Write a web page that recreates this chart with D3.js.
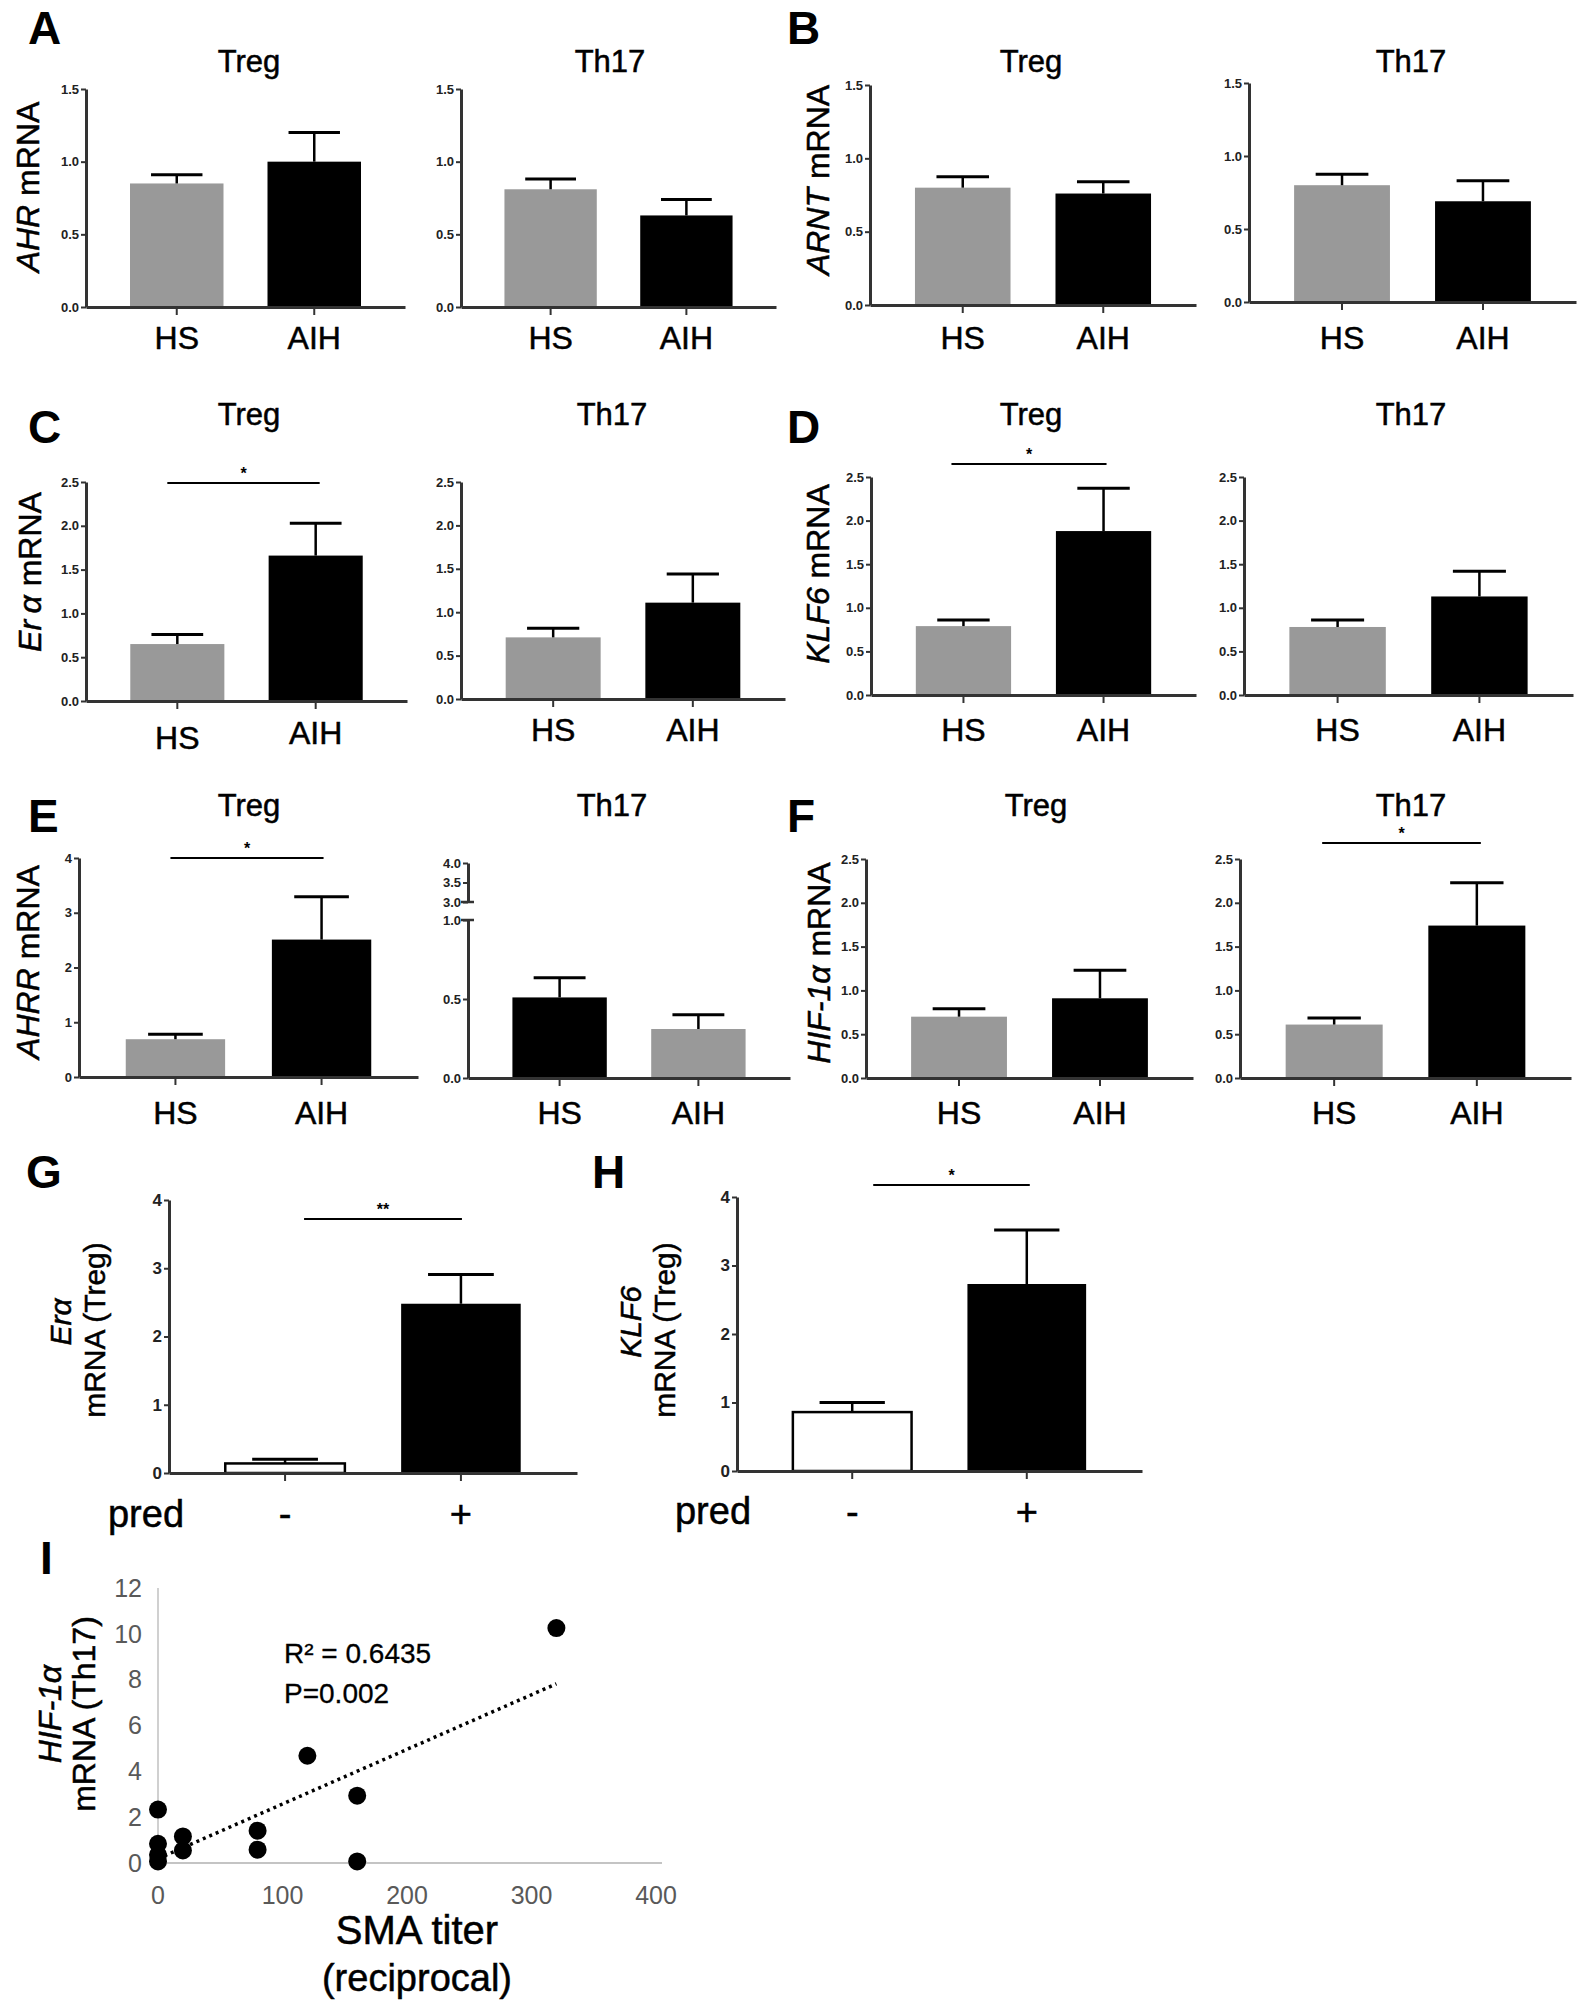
<!DOCTYPE html>
<html><head><meta charset="utf-8">
<script src="https://cdn.jsdelivr.net/npm/d3@7"></script>
<style>body{margin:0;background:#fff}svg{display:block}</style>
</head><body>
<svg id="fig" width="1585" height="2006"></svg>
<script>
// ---------------- DATA ----------------
const groups = ["HS", "AIH"];
const predGroups = ["-", "+"];
const cellTypes = ["Treg", "Th17"];
const ticks15 = [0, 0.5, 1.0, 1.5];
const ticks25 = [0, 0.5, 1.0, 1.5, 2.0, 2.5];
const ticks4 = [0, 1, 2, 3, 4];
const ticksBrokenLow = [0, 0.5, 1.0];
const ticksBrokenHigh = [3.0, 3.5, 4.0];

const ahrTreg = [0.85, 1.00],  ahrTregSem = [0.06, 0.20];
const ahrTh17 = [0.81, 0.63],  ahrTh17Sem = [0.07, 0.11];
const arntTreg = [0.80, 0.76], arntTregSem = [0.075, 0.08];
const arntTh17 = [0.80, 0.69], arntTh17Sem = [0.075, 0.14];
const eraTreg = [0.65, 1.66],  eraTregSem = [0.11, 0.37];
const eraTh17 = [0.71, 1.11],  eraTh17Sem = [0.105, 0.33];
const klf6Treg = [0.79, 1.88], klf6TregSem = [0.07, 0.49];
const klf6Th17 = [0.78, 1.13], klf6Th17Sem = [0.08, 0.29];
const ahrrTreg = [0.69, 2.51], ahrrTregSem = [0.09, 0.78];
const ahrrTh17 = [0.51, 0.31], ahrrTh17Sem = [0.125, 0.09];
const hifTreg = [0.70, 0.91],  hifTregSem = [0.09, 0.32];
const hifTh17 = [0.61, 1.74],  hifTh17Sem = [0.075, 0.49];
const eraPred = [0.14, 2.48],  eraPredSem = [0.06, 0.43];
const klf6Pred = [0.86, 2.73], klf6PredSem = [0.14, 0.79];

const smaTiter    = [0, 0, 0, 0, 20, 20, 80, 80, 120, 160, 160, 320];
const hifTh17Expr = [2.33, 0.84, 0.36, 0.07, 1.16, 0.55, 1.41, 0.58, 4.68, 2.94, 0.07, 10.25];
const trendX = [0, 320], trendY = [0.19, 7.82];
const scatterXTicks = [0, 100, 200, 300, 400];
const scatterYTicks = [0, 2, 4, 6, 8, 10, 12];
const statText = ["R\u00B2 = 0.6435", "P=0.002"];

// ---------------- DRAWING ----------------
const FONT = "'Liberation Sans', Arial, Helvetica, sans-serif";
const svg = d3.select("#fig").style("font-family", FONT);
svg.append("rect").attr("width", 1585).attr("height", 2006).attr("fill", "#fff");

const GRAY = "#999999", AXIS = "#333333";
const HEAVY = 0.5; // slight stroke to mimic the heavier scanned text

function heavy(t) { return t.attr("stroke", "#000").attr("stroke-width", HEAVY); }

function styleAxis(g, size) {
  g.select(".domain").attr("stroke", AXIS).attr("stroke-width", 3);
  g.selectAll(".tick line").attr("stroke", AXIS).attr("stroke-width", 2);
  g.selectAll(".tick text").attr("fill", "#222").attr("font-size", size || 13)
    .attr("font-weight", "bold").attr("font-family", FONT);
}

function barPanel(c) {
  const g = svg.append("g");
  const x = d3.scaleBand().domain(c.cats).range([c.ax, c.xr]).paddingInner(0.32).paddingOuter(0.32);
  let y;
  if (!c.broken) {
    y = d3.scaleLinear().domain(c.domain).range([c.y0, c.yTop]);
  } else {
    y = d3.scaleLinear().domain([0, 1]).range([c.y0, c.yBreakLow]);
  }
  // bars
  g.selectAll("rect.bar").data(c.means).join("rect")
    .attr("x", (d, i) => x(c.cats[i])).attr("width", x.bandwidth())
    .attr("y", d => y(d)).attr("height", d => c.y0 - y(d))
    .attr("fill", (d, i) => c.colors[i])
    .attr("stroke", (d, i) => c.colors[i] === "#ffffff" ? "#000" : "none")
    .attr("stroke-width", 2.5);
  // error bars (upper only)
  const capW = x.bandwidth() * 0.55;
  c.means.forEach((m, i) => {
    const cx = x(c.cats[i]) + x.bandwidth() / 2;
    const top = y(m + c.sem[i]);
    g.append("line").attr("x1", cx).attr("x2", cx).attr("y1", y(m)).attr("y2", top)
      .attr("stroke", "#000").attr("stroke-width", 2.5);
    g.append("line").attr("x1", cx - capW / 2).attr("x2", cx + capW / 2).attr("y1", top).attr("y2", top)
      .attr("stroke", "#000").attr("stroke-width", 3);
  });
  // y axis
  if (!c.broken) {
    const ya = g.append("g").attr("transform", `translate(${c.ax},0)`)
      .call(d3.axisLeft(y).tickValues(c.ticks).tickFormat(c.fmt).tickSize(5).tickSizeOuter(0).tickPadding(2));
    styleAxis(ya, c.tickSize);
  } else {
    const ya = g.append("g").attr("transform", `translate(${c.ax},0)`)
      .call(d3.axisLeft(y).tickValues(ticksBrokenLow).tickFormat(d3.format(".1f")).tickSize(5).tickSizeOuter(0).tickPadding(2));
    styleAxis(ya);
    const yHigh = d3.scaleLinear().domain([3, 4]).range([c.yBreakHigh, c.yTop]);
    const yb = g.append("g").attr("transform", `translate(${c.ax},0)`)
      .call(d3.axisLeft(yHigh).tickValues(ticksBrokenHigh).tickFormat(d3.format(".1f")).tickSize(5).tickSizeOuter(0).tickPadding(2));
    styleAxis(yb);
    [y(1), yHigh(3)].forEach(v => {
      g.append("line").attr("x1", c.ax - 7).attr("x2", c.ax + 6).attr("y1", v).attr("y2", v)
        .attr("stroke", AXIS).attr("stroke-width", 2.5);
    });
  }
  // x axis
  const xa = g.append("g").attr("transform", `translate(0,${c.y0})`)
    .call(d3.axisBottom(x).tickSize(8).tickSizeOuter(0).tickFormat(""));
  styleAxis(xa);
  // category labels
  c.cats.forEach((cat, i) => {
    heavy(g.append("text").attr("x", x(cat) + x.bandwidth() / 2)
      .attr("y", c.y0 + c.labelDy + (c.labelShift ? c.labelShift[i] : 0))
      .attr("text-anchor", "middle").attr("font-size", c.labelSize || 32).text(cat));
  });
  // title
  if (c.title) {
    heavy(g.append("text").attr("x", c.titleX).attr("y", c.titleY).attr("text-anchor", "middle")
      .attr("font-size", 31).text(c.title));
  }
  // significance
  if (c.sig) {
    const x0 = x(c.cats[0]) + x.bandwidth() / 2 + c.sig.dx0;
    const x1 = x(c.cats[1]) + x.bandwidth() / 2 + c.sig.dx1;
    g.append("line").attr("x1", x0).attr("x2", x1).attr("y1", c.sig.y).attr("y2", c.sig.y)
      .attr("stroke", "#000").attr("stroke-width", 2.2);
    g.append("text").attr("x", (x0 + x1) / 2).attr("y", c.sig.y - 4).attr("text-anchor", "middle")
      .attr("font-size", 16).attr("font-weight", "bold").text(c.sig.label);
  }
  return {x, y};
}

function yLabel(x, y, italicPart, rest, size) {
  const t = svg.append("text").attr("transform", `translate(${x},${y}) rotate(-90)`)
    .attr("text-anchor", "middle").attr("dominant-baseline", "central").attr("font-size", size || 32);
  heavy(t);
  if (italicPart) t.append("tspan").attr("font-style", "italic").text(italicPart);
  if (rest) t.append("tspan").text(rest);
}

function panelLetter(x, y, L) {
  svg.append("text").attr("x", x).attr("y", y).attr("font-size", 46).attr("font-weight", "bold").text(L);
}

const f1 = d3.format(".1f"), f0 = d3.format("d");
const std = [GRAY, "#000000"];

// Row 1: A and B
panelLetter(28, 44, "A");
yLabel(28, 187, "AHR", " mRNA");
barPanel({cats: groups, means: ahrTreg, sem: ahrTregSem, colors: std, ax: 86, xr: 405, yTop: 89, y0: 307,
  domain: [0, 1.5], ticks: ticks15, fmt: f1, labelDy: 42, title: cellTypes[0], titleX: 249, titleY: 72});
barPanel({cats: groups, means: ahrTh17, sem: ahrTh17Sem, colors: std, ax: 461, xr: 776, yTop: 89, y0: 307,
  domain: [0, 1.5], ticks: ticks15, fmt: f1, labelDy: 42, title: cellTypes[1], titleX: 610, titleY: 72});
panelLetter(787, 44, "B");
yLabel(818, 180, "ARNT", " mRNA");
barPanel({cats: groups, means: arntTreg, sem: arntTregSem, colors: std, ax: 870, xr: 1196, yTop: 85, y0: 305,
  domain: [0, 1.5], ticks: ticks15, fmt: f1, labelDy: 44, title: cellTypes[0], titleX: 1031, titleY: 72});
barPanel({cats: groups, means: arntTh17, sem: arntTh17Sem, colors: std, ax: 1249, xr: 1576, yTop: 83, y0: 302,
  domain: [0, 1.5], ticks: ticks15, fmt: f1, labelDy: 47, title: cellTypes[1], titleX: 1411, titleY: 72});

// Row 2: C and D
panelLetter(28, 443, "C");
yLabel(30, 572, "Er\u2009\u03B1", " mRNA");
barPanel({cats: groups, means: eraTreg, sem: eraTregSem, colors: std, ax: 86, xr: 407, yTop: 482, y0: 701,
  domain: [0, 2.5], ticks: ticks25, fmt: f1, labelDy: 43, labelShift: [5, 0], title: cellTypes[0], titleX: 249, titleY: 425,
  sig: {y: 483, dx0: -10, dx1: 4, label: "*"}});
barPanel({cats: groups, means: eraTh17, sem: eraTh17Sem, colors: std, ax: 461, xr: 785, yTop: 482, y0: 699,
  domain: [0, 2.5], ticks: ticks25, fmt: f1, labelDy: 42, title: cellTypes[1], titleX: 612, titleY: 425});
panelLetter(787, 443, "D");
yLabel(818, 574, "KLF6", " mRNA");
barPanel({cats: groups, means: klf6Treg, sem: klf6TregSem, colors: std, ax: 871, xr: 1196, yTop: 477, y0: 695,
  domain: [0, 2.5], ticks: ticks25, fmt: f1, labelDy: 46, title: cellTypes[0], titleX: 1031, titleY: 425,
  sig: {y: 464, dx0: -12, dx1: 3, label: "*"}});
barPanel({cats: groups, means: klf6Th17, sem: klf6Th17Sem, colors: std, ax: 1244, xr: 1573, yTop: 477, y0: 695,
  domain: [0, 2.5], ticks: ticks25, fmt: f1, labelDy: 46, title: cellTypes[1], titleX: 1411, titleY: 425});

// Row 3: E and F
panelLetter(28, 832, "E");
yLabel(28, 962, "AHRR", " mRNA");
barPanel({cats: groups, means: ahrrTreg, sem: ahrrTregSem, colors: std, ax: 79, xr: 418, yTop: 858, y0: 1077,
  domain: [0, 4], ticks: ticks4, fmt: f0, labelDy: 47, title: cellTypes[0], titleX: 249, titleY: 816,
  sig: {y: 858, dx0: -5, dx1: 2, label: "*"}});
barPanel({cats: groups, means: ahrrTh17, sem: ahrrTh17Sem, colors: ["#000000", GRAY], ax: 468, xr: 790,
  broken: true, yTop: 863, yBreakHigh: 902, yBreakLow: 920, y0: 1078,
  labelDy: 46, title: cellTypes[1], titleX: 612, titleY: 816});
panelLetter(787, 832, "F");
yLabel(819, 963, "HIF-1\u03B1", " mRNA");
barPanel({cats: groups, means: hifTreg, sem: hifTregSem, colors: std, ax: 866, xr: 1193, yTop: 859, y0: 1078,
  domain: [0, 2.5], ticks: ticks25, fmt: f1, labelDy: 46, title: cellTypes[0], titleX: 1036, titleY: 816});
barPanel({cats: groups, means: hifTh17, sem: hifTh17Sem, colors: std, ax: 1240, xr: 1571, yTop: 859, y0: 1078,
  domain: [0, 2.5], ticks: ticks25, fmt: f1, labelDy: 46, title: cellTypes[1], titleX: 1411, titleY: 816,
  sig: {y: 843, dx0: -12, dx1: 4, label: "*"}});

// Row 4: G and H
const white = ["#ffffff", "#000000"];
panelLetter(26, 1188, "G");
yLabel(60, 1322, "Er\u03B1", null, 30);
yLabel(94, 1330, null, "mRNA (Treg)", 30);
barPanel({cats: predGroups, means: eraPred, sem: eraPredSem, colors: white, ax: 169, xr: 577, yTop: 1200, y0: 1473,
  domain: [0, 4], ticks: ticks4, fmt: f0, labelDy: 54, labelSize: 38, tickSize: 17,
  sig: {y: 1219, dx0: 19, dx1: 1, label: "**"}});
heavy(svg.append("text").attr("x", 146).attr("y", 1527).attr("text-anchor", "middle").attr("font-size", 38).text("pred"));

panelLetter(592, 1188, "H");
yLabel(630, 1322, "KLF6", null, 30);
yLabel(664, 1330, null, "mRNA (Treg)", 30);
barPanel({cats: predGroups, means: klf6Pred, sem: klf6PredSem, colors: white, ax: 737, xr: 1142, yTop: 1197, y0: 1471,
  domain: [0, 4], ticks: ticks4, fmt: f0, labelDy: 54, labelSize: 38, tickSize: 17,
  sig: {y: 1185, dx0: 21, dx1: 3, label: "*"}});
heavy(svg.append("text").attr("x", 713).attr("y", 1524).attr("text-anchor", "middle").attr("font-size", 38).text("pred"));

// Row 5: I scatter
panelLetter(40, 1574, "I");
const sx = d3.scaleLinear().domain([0, 400]).range([158, 656]);
const sy = d3.scaleLinear().domain([0, 12]).range([1863, 1588]);
const gi = svg.append("g");
gi.append("line").attr("x1", sx(0)).attr("x2", sx(0)).attr("y1", sy(0)).attr("y2", sy(12))
  .attr("stroke", "#d0d0d0").attr("stroke-width", 2);
gi.append("line").attr("x1", sx(0)).attr("x2", sx(400) + 6).attr("y1", sy(0)).attr("y2", sy(0))
  .attr("stroke", "#c4c4c4").attr("stroke-width", 2);
gi.selectAll("text.xt").data(scatterXTicks).join("text").attr("class", "xt")
  .attr("x", d => sx(d)).attr("y", sy(0) + 41).attr("text-anchor", "middle")
  .attr("font-size", 25).attr("fill", "#595959").text(d => d);
gi.selectAll("text.yt").data(scatterYTicks).join("text").attr("class", "yt")
  .attr("x", sx(0) - 16).attr("y", d => sy(d)).attr("dy", "0.35em").attr("text-anchor", "end")
  .attr("font-size", 25).attr("fill", "#595959").text(d => d);
gi.append("line").attr("x1", sx(trendX[0])).attr("x2", sx(trendX[1]))
  .attr("y1", sy(trendY[0])).attr("y2", sy(trendY[1]))
  .attr("stroke", "#000").attr("stroke-width", 3.5).attr("stroke-dasharray", "3,4");
gi.selectAll("circle").data(smaTiter.map((t, i) => [t, hifTh17Expr[i]])).join("circle")
  .attr("cx", d => sx(d[0])).attr("cy", d => sy(d[1])).attr("r", 9).attr("fill", "#000");
heavy(gi.append("text").attr("x", 284).attr("y", 1663).attr("font-size", 28).text(statText[0])).attr("stroke-width", 0.3);
heavy(gi.append("text").attr("x", 284).attr("y", 1703).attr("font-size", 28).text(statText[1])).attr("stroke-width", 0.3);
heavy(gi.append("text").attr("x", 417).attr("y", 1944).attr("text-anchor", "middle").attr("font-size", 40).text("SMA titer"));
heavy(gi.append("text").attr("x", 417).attr("y", 1991).attr("text-anchor", "middle").attr("font-size", 38).text("(reciprocal)"));
yLabel(50, 1714, "HIF-1\u03B1", null, 32);
yLabel(84, 1714, null, "mRNA (Th17)", 32);
</script>
</body></html>
